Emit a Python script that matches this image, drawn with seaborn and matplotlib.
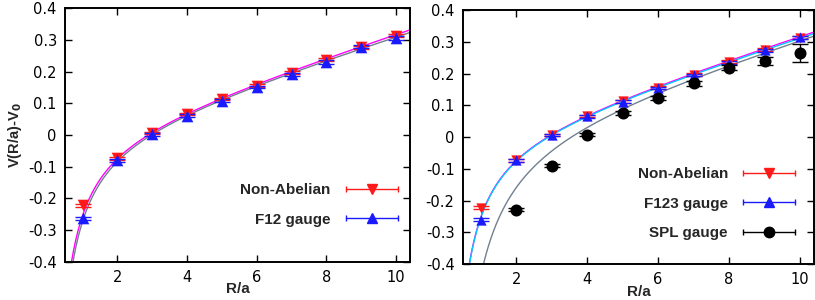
import numpy as np
import pandas as pd
import matplotlib
matplotlib.use("Agg")
import matplotlib.pyplot as plt
import seaborn as sns
from matplotlib.lines import Line2D
from matplotlib.legend_handler import HandlerBase

# data
r = [1, 2, 3, 4, 5, 6, 7, 8, 9, 10]
nonabelian = [-0.222, -0.073, 0.007, 0.066, 0.113, 0.156, 0.197, 0.237, 0.276, 0.313]
nonabelian_err = [0.005, 0.005, 0.004, 0.004, 0.004, 0.004, 0.004, 0.005, 0.005, 0.005]
f12 = [-0.262, -0.080, 0.002, 0.061, 0.108, 0.152, 0.191, 0.230, 0.278, 0.307]
f12_err = [0.005, 0.005, 0.004, 0.004, 0.004, 0.004, 0.004, 0.005, 0.005, 0.006]
f123 = [-0.260, -0.073, 0.006, 0.065, 0.112, 0.155, 0.196, 0.235, 0.273, 0.314]
f123_err = [0.005, 0.005, 0.004, 0.004, 0.004, 0.004, 0.004, 0.005, 0.005, 0.006]
r_spl = [2, 3, 4, 5, 6, 7, 8, 9, 10]
spl = [-0.229, -0.090, 0.007, 0.077, 0.124, 0.169, 0.219, 0.240, 0.264]
spl_err = [0.004, 0.004, 0.005, 0.006, 0.007, 0.008, 0.009, 0.013, 0.028]

# fitted curves V = c + sigma*R - alpha/R  (parameters)
fit_nonabelian = [0.0001, 0.0345, 0.288]
fit_f12 = [0.0045, 0.0335, 0.310]
fit_f123 = [0.0005, 0.0340, 0.290]
fit_spl = [0.0205, 0.0332, 0.493]

RED = "#ff1a1a"
BLUE = "#1a1aff"
MAGENTA = "#ff00ff"
GRAY = "#708090"
CYAN = "#00c8ff"


def curve(p):
    rr = np.linspace(0.3, 10.5, 500)
    return pd.DataFrame({"R": rr, "V": p[0] + p[1] * rr - p[2] / rr})


class ErrHandler(HandlerBase):
    # gnuplot-like key: horizontal bar with end ticks and the symbol in the middle
    def create_artists(self, legend, orig, xdescent, ydescent, width, height,
                       fontsize, trans):
        y = height / 2 - ydescent
        x0, x1 = -xdescent, width - xdescent
        c = orig.get_color()
        bar = Line2D([x0, x1], [y, y], color=c, lw=1.0)
        caps = Line2D([x0, x1], [y, y], color=c, ls="none", marker="|",
                      markersize=5, markeredgewidth=1.0)
        mk = Line2D([(x0 + x1) / 2], [y], color=c, ls="none",
                    marker=orig.get_marker(), markersize=orig.get_markersize())
        for a in (bar, caps, mk):
            a.set_transform(trans)
        return [bar, caps, mk]


sns.set_style("ticks")
plt.rcParams["font.family"] = ["DejaVu Sans"]

fig = plt.figure(figsize=(8.15, 3.0), dpi=100)
ax1 = fig.add_axes([0.080, 0.127, 0.423, 0.846])
ax2 = fig.add_axes([0.568, 0.120, 0.431, 0.846])


def points(ax, x, y, e, color, marker, ms):
    ax.errorbar(x, y, yerr=e, fmt="none", ecolor=color, elinewidth=1.0,
                capsize=6, capthick=1.0, zorder=3)
    sns.scatterplot(x=x, y=y, ax=ax, color=color, marker=marker, s=ms,
                    edgecolor=color, linewidth=0, zorder=4)


def style(ax):
    ax.set_xlim(0.5, 10.4)
    ax.set_ylim(-0.4, 0.4)
    ax.set_xticks([2, 4, 6, 8, 10])
    ax.set_yticks(np.round(np.arange(-0.4, 0.41, 0.1), 1))
    ax.set_yticklabels(["-0.4", "-0.3", "-0.2", "-0.1", "0", "0.1", "0.2", "0.3", "0.4"])
    ax.tick_params(direction="in", length=5, width=1.0, top=True, right=True,
                   labelsize=10.5, colors="black", pad=6)
    for s in ax.spines.values():
        s.set_linewidth(1.4)
        s.set_color("black")
    ax.set_xlabel("R/a", fontsize=11, fontweight="bold", family="Liberation Sans",
                  labelpad=-2)
    ax.set_ylabel("")


legend_font = {"family": "Liberation Sans", "weight": "bold", "size": 11}

# left panel
sns.lineplot(data=curve(fit_nonabelian), x="R", y="V", ax=ax1, color=MAGENTA, lw=1.0)
sns.lineplot(data=curve(fit_f12), x="R", y="V", ax=ax1, color=GRAY, lw=1.0)
points(ax1, r, nonabelian, nonabelian_err, RED, "v", 70)
points(ax1, r, f12, f12_err, BLUE, "^", 70)
style(ax1)
ax1.set_ylabel("V(R/a)-V$_\\mathbf{0}$", fontsize=10.5, fontweight="bold",
               family="Liberation Sans", labelpad=3)

k1 = Line2D([], [], color=RED, marker="v", markersize=7.5)
k2 = Line2D([], [], color=BLUE, marker="^", markersize=7.5)
ax1.legend([k1, k2], ["Non-Abelian", "F12 gauge"], loc="upper right",
           bbox_to_anchor=(1.005, 0.364), frameon=False, markerfirst=False,
           handlelength=3.4, handletextpad=1.0, labelspacing=1.0,
           prop=legend_font, handler_map={Line2D: ErrHandler()})

# right panel
sns.lineplot(data=curve(fit_nonabelian), x="R", y="V", ax=ax2, color=MAGENTA, lw=1.0)
sns.lineplot(data=curve(fit_f123), x="R", y="V", ax=ax2, color=CYAN, lw=1.0)
sns.lineplot(data=curve(fit_spl), x="R", y="V", ax=ax2, color=GRAY, lw=1.0)
points(ax2, r, nonabelian, nonabelian_err, RED, "v", 55)
points(ax2, r, f123, f123_err, BLUE, "^", 55)
points(ax2, r_spl, spl, spl_err, "black", "o", 75)
style(ax2)

j1 = Line2D([], [], color=RED, marker="v", markersize=6.5)
j2 = Line2D([], [], color=BLUE, marker="^", markersize=6.5)
j3 = Line2D([], [], color="black", marker="o", markersize=7.5)
ax2.legend([j1, j2, j3], ["Non-Abelian", "F123 gauge", "SPL gauge"], loc="upper right",
           bbox_to_anchor=(0.985, 0.435), frameon=False, markerfirst=False,
           handlelength=3.4, handletextpad=1.0, labelspacing=1.0,
           prop=legend_font, handler_map={Line2D: ErrHandler()})

fig.savefig("out.png", dpi=100)
